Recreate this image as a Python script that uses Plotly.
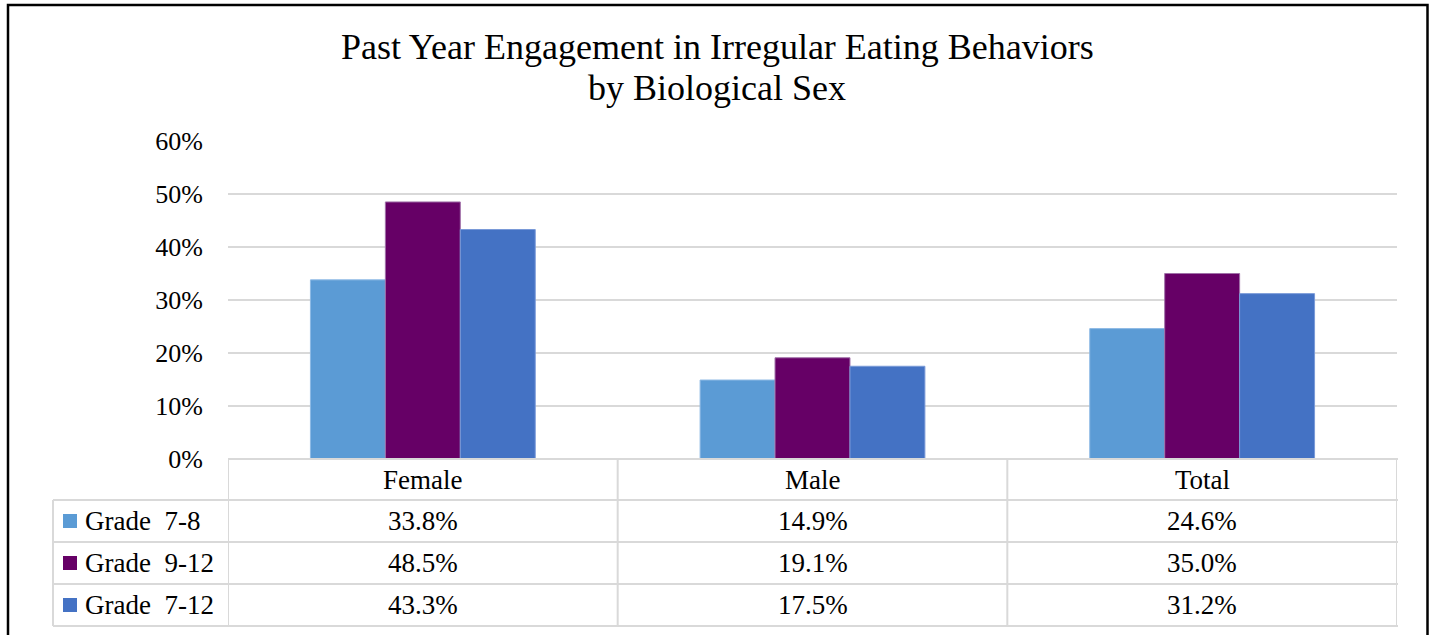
import plotly.graph_objects as go

# Data
categories = ["Female", "Male", "Total"]
series_names = ["Grade  7-8", "Grade  9-12", "Grade  7-12"]
grade_7_8 = [33.8, 14.9, 24.6]
grade_9_12 = [48.5, 19.1, 35.0]
grade_7_12 = [43.3, 17.5, 31.2]
y_ticks = [0, 10, 20, 30, 40, 50, 60]
y_tick_labels = ["0%", "10%", "20%", "30%", "40%", "50%", "60%"]
title_lines = ["Past Year Engagement in Irregular Eating Behaviors", "by Biological Sex"]

series_values = [grade_7_8, grade_9_12, grade_7_12]
colors = ["#5B9BD5", "#660066", "#4472C4"]
edge_colors = ["#8DB9E4", "#A070A8", "#7A9AD8"]

W, H = 1434, 635
L, R, T, B = 228, 1397, 141, 459  # plot area in pixels
FONT = "Liberation Serif"
GRID = "#D9D9D9"
TABLE_SIZE = 27


def px_x(p):
    return (p - L) / (R - L)


def px_y(p):
    return (B - p) / (B - T)


fig = go.Figure()
for name, vals, c, ec in zip(series_names, series_values, colors, edge_colors):
    fig.add_trace(go.Bar(
        x=categories, y=vals, name=name,
        marker=dict(color=c, line=dict(color=ec, width=1)),
        hoverinfo="x+y+name",
    ))

shapes = []
annotations = []
line_style = dict(color=GRID, width=2)

# Two-line chart title, centred on the page
for text, yc in zip(title_lines, [47, 88]):
    annotations.append(dict(x=px_x(W / 2), xref="paper", y=px_y(yc), yref="paper",
                            text=text, showarrow=False, xanchor="center", yanchor="middle",
                            font=dict(family=FONT, size=36, color="#000000")))

# Data table grid
row_edges = [459, 500, 542, 584, 626]
row_centers = [(row_edges[i] + row_edges[i + 1]) / 2 for i in range(4)]
left_px = 53
table_right = R + 1
shapes.append(dict(type="line", xref="paper", yref="paper",
                   x0=px_x(L), x1=px_x(table_right), y0=px_y(row_edges[0]), y1=px_y(row_edges[0]),
                   line=line_style))
for yy in row_edges[1:]:
    shapes.append(dict(type="line", xref="paper", yref="paper",
                       x0=px_x(left_px), x1=px_x(table_right), y0=px_y(yy), y1=px_y(yy),
                       line=line_style))
shapes.append(dict(type="line", xref="paper", yref="paper",
                   x0=px_x(left_px), x1=px_x(left_px), y0=px_y(row_edges[1]), y1=px_y(row_edges[-1]),
                   line=line_style))
for xv in [-0.5, 0.5, 1.5, 2.5]:
    shapes.append(dict(type="line", xref="x", yref="paper",
                       x0=xv, x1=xv, y0=px_y(row_edges[0]), y1=px_y(row_edges[-1]),
                       line=line_style))

# Category header row
for cat in categories:
    annotations.append(dict(x=cat, xref="x", y=px_y(row_centers[0]), yref="paper",
                            text=cat, showarrow=False, xanchor="center", yanchor="middle",
                            font=dict(family=FONT, size=TABLE_SIZE, color="#000000")))

# Value rows with legend keys
for i, (name, vals, c) in enumerate(zip(series_names, series_values, colors)):
    yc = row_centers[i + 1]
    shapes.append(dict(type="rect", xref="paper", yref="paper",
                       x0=px_x(63), x1=px_x(77), y0=px_y(yc - 7), y1=px_y(yc + 7),
                       fillcolor=c, line=dict(width=0)))
    annotations.append(dict(x=px_x(83), xref="paper", y=px_y(yc), yref="paper",
                            text=name.replace("  ", "&nbsp; "), showarrow=False,
                            xanchor="left", yanchor="middle",
                            font=dict(family=FONT, size=TABLE_SIZE, color="#000000")))
    for cat, v in zip(categories, vals):
        annotations.append(dict(x=cat, xref="x", y=px_y(yc), yref="paper",
                                text=f"{v:.1f}%", showarrow=False,
                                xanchor="center", yanchor="middle",
                                font=dict(family=FONT, size=TABLE_SIZE, color="#000000")))

# Outer frame
shapes.append(dict(type="rect", xref="paper", yref="paper",
                   x0=px_x(8), x1=px_x(1427.5), y0=px_y(5), y1=px_y(650),
                   line=dict(color="#000000", width=2.5), fillcolor="rgba(0,0,0,0)"))

fig.update_layout(
    width=W, height=H,
    margin=dict(l=L, r=W - R, t=T, b=H - B, pad=0),
    paper_bgcolor="#FFFFFF", plot_bgcolor="#FFFFFF",
    barmode="group", bargap=1 - 225 / 390, bargroupgap=0,
    showlegend=False,
    xaxis=dict(showticklabels=False, showgrid=False, zeroline=False, showline=False,
               range=[-0.5, 2.5], fixedrange=True),
    yaxis=dict(range=[0, 60], tickvals=y_ticks, ticktext=y_tick_labels,
               showgrid=True, gridcolor=GRID, gridwidth=1.5, zeroline=False, showline=False,
               ticks="", ticklabelstandoff=24,
               tickfont=dict(family=FONT, size=26, color="#000000"), fixedrange=True),
    shapes=shapes, annotations=annotations,
    font=dict(family=FONT),
)

fig.write_html("out.html")
